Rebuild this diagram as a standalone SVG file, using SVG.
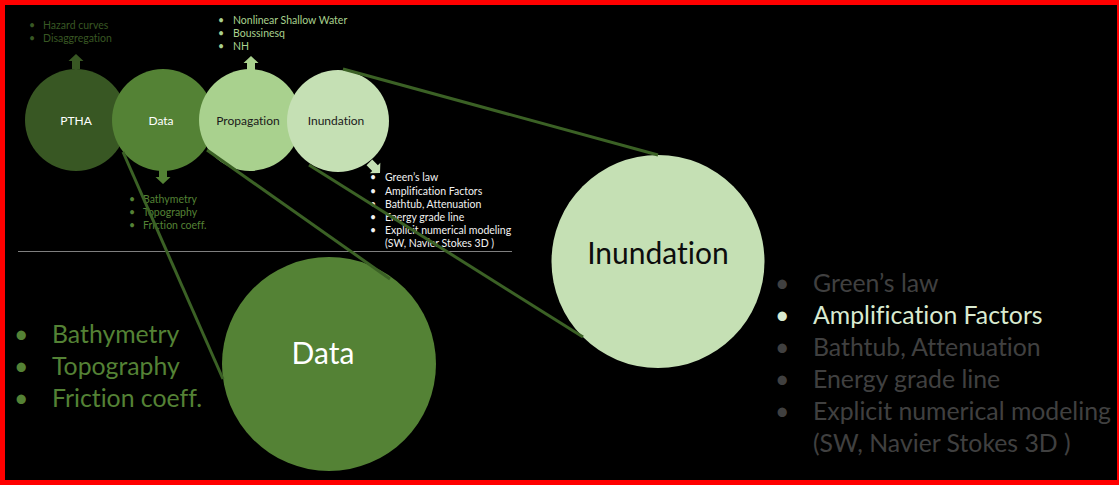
<svg xmlns="http://www.w3.org/2000/svg" width="1119" height="485" viewBox="0 0 1119 485">
  <style>
    text { font-family: Lato, "Open Sans", "Liberation Sans", sans-serif; font-variant-ligatures: none; }
    .c-ptha { fill: #385723; }
    .c-data { fill: #548235; }
    .c-prop { fill: #A9D18E; }
    .c-inun { fill: #C5E0B4; }
    .lbl-s { font-size: 12px; text-anchor: middle; }
    .lst-s { font-size: 10.5px; }
    .lst-l { font-size: 24.8px; }
    .link { stroke: #3B6125; stroke-width: 3; fill: none; stroke-linecap: butt; }
  </style>
  <defs>
    <!-- block arrow pointing up, tip at origin -->
    <path id="blk" d="M0,0 L7.5,7 L4,7 L4,15 L-4,15 L-4,7 L-7.5,7 Z"/>
  </defs>

  <!-- background and frame -->
  <rect x="0" y="0" width="1119" height="485" fill="#000"/>
  <rect x="0" y="0" width="1119" height="5" fill="#FF0000"/>
  <rect x="0" y="0" width="5" height="485" fill="#FF0000"/>
  <rect x="0" y="480" width="1119" height="5" fill="#FF0000"/>
  <rect x="1117" y="0" width="2" height="485" fill="#FF0000"/>

  <!-- separator -->
  <line x1="18" y1="251.5" x2="512" y2="251.5" stroke="#7F7F7F" stroke-width="1"/>

  <!-- process chain -->
  <g id="ptha">
    <use href="#blk" class="c-ptha" x="76" y="54"/>
    <circle class="c-ptha" cx="76" cy="120" r="51"/>
    <text class="lbl-s" x="76" y="124.5" fill="#FFFFFF">PTHA</text>
    <g class="lst-s" fill="#385723">
      <text x="29" y="29">•</text><text x="43" y="29">Hazard curves</text>
      <text x="29" y="42">•</text><text x="43" y="42">Disaggregation</text>
    </g>
  </g>

  <g id="data">
    <use href="#blk" class="c-data" transform="translate(163,184) rotate(180)"/>
    <circle class="c-data" cx="163" cy="120" r="51"/>
    <text class="lbl-s" x="161" y="124.5" fill="#FFFFFF">Data</text>
    <g class="lst-s" fill="#548235">
      <text x="129" y="203">•</text><text x="143" y="203">Bathymetry</text>
      <text x="129" y="216">•</text><text x="143" y="216">Topography</text>
      <text x="129" y="229">•</text><text x="143" y="229">Friction coeff.</text>
    </g>
  </g>

  <g id="propagation">
    <use href="#blk" class="c-prop" x="251" y="56"/>
    <circle class="c-prop" cx="250" cy="120" r="51"/>
    <text class="lbl-s" x="248" y="124.5" fill="#1A1A1A">Propagation</text>
    <g class="lst-s" fill="#A9D18E">
      <text x="218" y="24">•</text><text x="233" y="24">Nonlinear Shallow Water</text>
      <text x="218" y="37">•</text><text x="233" y="37">Boussinesq</text>
      <text x="218" y="50">•</text><text x="233" y="50">NH</text>
    </g>
  </g>

  <g id="inundation">
    <use href="#blk" class="c-inun" transform="translate(380,173) rotate(135)"/>
    <circle class="c-inun" cx="338" cy="121" r="51"/>
    <text class="lbl-s" x="336" y="124.5" fill="#1A1A1A">Inundation</text>
    <g class="lst-s" fill="#F2F2F2">
      <text x="370" y="181">•</text><text x="385" y="181">Green’s law</text>
      <text x="370" y="194.5">•</text><text x="385" y="194.5">Amplification Factors</text>
      <text x="370" y="207.5">•</text><text x="385" y="207.5">Bathtub, Attenuation</text>
      <text x="370" y="221">•</text><text x="385" y="221">Energy grade line</text>
      <text x="370" y="234">•</text><text x="385" y="234">Explicit numerical modeling</text>
      <text x="385" y="247">(SW, Navier Stokes 3D )</text>
    </g>
  </g>

  <!-- enlarged views -->
  <g id="data-detail">
    <circle class="c-data" cx="329" cy="364" r="107"/>
    <text x="323" y="364" font-size="30" text-anchor="middle" fill="#FFFFFF">Data</text>
    <g class="lst-l" fill="#548235">
      <text x="14" y="343">•</text><text x="52" y="343">Bathymetry</text>
      <text x="14" y="375">•</text><text x="52" y="375">Topography</text>
      <text x="14" y="407">•</text><text x="52" y="407">Friction coeff.</text>
    </g>
  </g>

  <g id="inundation-detail">
    <circle class="c-inun" cx="658" cy="261.5" r="106.5"/>
    <text x="658" y="264" font-size="30" text-anchor="middle" fill="#0D0D0D">Inundation</text>
    <g class="lst-l" fill="#404040">
      <text x="775" y="292">•</text><text x="813" y="292">Green’s law</text>
      <text x="775" y="324" fill="#D9EAD0">•</text><text x="813" y="324" fill="#D9EAD0">Amplification Factors</text>
      <text x="775" y="356">•</text><text x="813" y="356">Bathtub, Attenuation</text>
      <text x="775" y="388">•</text><text x="813" y="388">Energy grade line</text>
      <text x="775" y="420">•</text><text x="813" y="420">Explicit numerical modeling</text>
      <text x="813" y="452">(SW, Navier Stokes 3D )</text>
    </g>
  </g>

  <!-- zoom connectors -->
  <g id="connectors">
    <line class="link" x1="123" y1="152" x2="223" y2="379"/>
    <line class="link" x1="207" y1="150" x2="390" y2="279"/>
    <line class="link" x1="309" y1="165" x2="583" y2="337"/>
    <line class="link" x1="343" y1="69" x2="658" y2="155"/>
  </g>
</svg>
